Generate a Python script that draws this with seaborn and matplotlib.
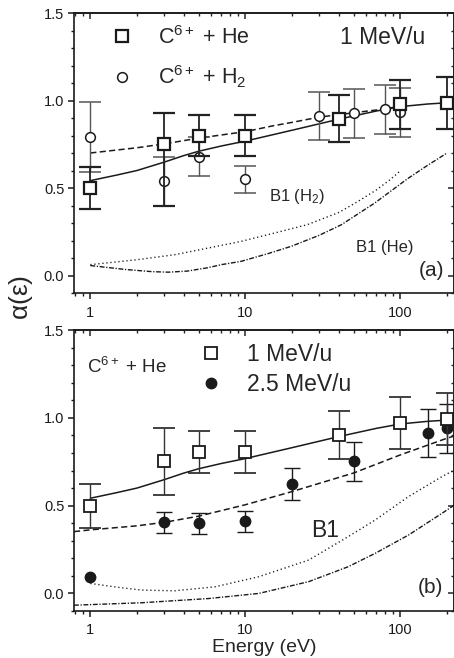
import numpy as np
import matplotlib
matplotlib.use("Agg")
import matplotlib.pyplot as plt
import matplotlib.ticker as mticker
from matplotlib.lines import Line2D
import seaborn as sns

# ---------------- data (panel a: 1 MeV/u) ----------------
he_E = [1, 3, 5, 10, 40, 100, 200]
he_a = [0.50, 0.75, 0.80, 0.80, 0.896, 0.978, 0.987]
he_a_lo = [0.12, 0.35, 0.115, 0.115, 0.135, 0.14, 0.15]
he_a_hi = [0.12, 0.18, 0.115, 0.115, 0.135, 0.14, 0.15]

h2_E = [1, 3, 5, 10, 30, 50, 80, 100]
h2_a = [0.79, 0.54, 0.68, 0.55, 0.912, 0.928, 0.949, 0.932]
h2_a_err = [0.20, 0.14, 0.11, 0.076, 0.135, 0.14, 0.14, 0.14]

# theory curves panel a
solid_E = [1, 1.5, 2, 3, 4, 5, 7, 10, 20, 40, 70, 100, 150, 200]
solid_v = [0.542, 0.575, 0.60, 0.648, 0.685, 0.71, 0.74, 0.768, 0.83, 0.893, 0.94, 0.965, 0.98, 0.987]

dash_a_E = [1, 2, 3, 5, 10, 15, 20, 30, 50, 80, 100]
dash_a_v = [0.70, 0.73, 0.752, 0.785, 0.822, 0.855, 0.875, 0.905, 0.93, 0.952, 0.968]

b1h2_E = [1, 2, 3.5, 6, 9.4, 15, 25, 40, 53, 70, 85, 100]
b1h2_v = [0.062, 0.09, 0.119, 0.16, 0.195, 0.24, 0.29, 0.36, 0.422, 0.489, 0.545, 0.598]

b1he_E = [1, 1.7, 2.5, 3.2, 4.2, 5.7, 7, 9.4, 14, 19.8, 30, 41.6, 68, 112, 150, 200]
b1he_v = [0.057, 0.034, 0.022, 0.019, 0.025, 0.044, 0.062, 0.081, 0.125, 0.167, 0.23, 0.29, 0.413, 0.555, 0.63, 0.70]

# ---------------- data (panel b: C6+ + He) ----------------
sq_E = [1, 3, 5, 10, 40, 100, 200]
sq_b = [0.50, 0.752, 0.804, 0.804, 0.90, 0.971, 0.994]
sq_b_err = [0.125, 0.19, 0.12, 0.12, 0.136, 0.146, 0.148]

fc_E = [1, 3, 5, 10, 20, 50, 150, 200]
fc_b = [0.095, 0.404, 0.40, 0.41, 0.623, 0.753, 0.913, 0.941]
fc_b_err = [np.nan, 0.06, 0.06, 0.06, 0.093, 0.112, 0.136, 0.14]

dash_b_E = [0.785, 1, 2, 3, 5, 10, 20, 50, 100, 200, 220]
dash_b_v = [0.352, 0.362, 0.385, 0.405, 0.44, 0.505, 0.58, 0.686, 0.789, 0.884, 0.895]

b1_E = [1, 1.5, 2.15, 3.5, 6.4, 12.2, 25.6, 46, 69, 113, 186, 220]
b1_v = [0.057, 0.035, 0.019, 0.015, 0.038, 0.095, 0.19, 0.323, 0.419, 0.552, 0.666, 0.70]

b1dd_E = [0.785, 2.15, 5.8, 12.2, 25.6, 46, 69, 113, 186, 220]
b1dd_v = [-0.067, -0.053, -0.029, 0.0, 0.067, 0.152, 0.229, 0.333, 0.457, 0.50]

xticks = [1, 10, 100]
xticklabels = ["1", "10", "100"]
yticks = [0.0, 0.5, 1.0, 1.5]

# ---------------- style ----------------
sns.set_theme(style="ticks")
plt.rcParams['font.family'] = ['Liberation Sans', 'DejaVu Sans']
plt.rcParams['mathtext.fontset'] = 'custom'
plt.rcParams['mathtext.rm'] = 'Liberation Sans'
plt.rcParams['mathtext.it'] = 'Liberation Sans'
plt.rcParams['axes.linewidth'] = 1.2

fig = plt.figure(figsize=(4.54, 6.58), dpi=100)
W, H = 454.0, 658.0
ax_a = fig.add_axes([74 / W, 1 - 293 / H, (453.5 - 74) / W, (293 - 13) / H])
ax_b = fig.add_axes([74 / W, 1 - 611 / H, (453.5 - 74) / W, (611 - 330) / H])

DASHED = (0, (4.0, 2.2))
DOTTED = (0, (0.9, 2.0))
DASHDOT = (0, (3.5, 1.2, 0.9, 1.2))


def setup(ax):
    ax.set_xscale('log')
    ax.set_xlim(0.785, 220)
    ax.set_ylim(-0.1, 1.5)
    ax.set_xticks(xticks)
    ax.set_xticklabels(xticklabels)
    ax.xaxis.set_minor_locator(mticker.LogLocator(base=10, subs=np.arange(2, 10)))
    ax.xaxis.set_minor_formatter(mticker.NullFormatter())
    ax.set_yticks(yticks)
    ax.yaxis.set_major_formatter(mticker.FormatStrFormatter('%.1f'))
    ax.yaxis.set_minor_locator(mticker.MultipleLocator(0.1))
    ax.tick_params(which='major', direction='out', length=4, width=1.1, labelsize=10.5,
                   colors='k', pad=3)
    ax.tick_params(axis='x', which='major', pad=5)
    ax.tick_params(which='minor', direction='out', length=2.5, width=1.0, colors='k')
    for s in ax.spines.values():
        s.set_color('k')
        s.set_linewidth(1.2)
    # top and right inward ticks
    sx = ax.secondary_xaxis('top')
    sx.set_xticks(xticks)
    sx.xaxis.set_minor_locator(mticker.LogLocator(base=10, subs=np.arange(2, 10)))
    sx.tick_params(which='major', direction='in', length=4, width=1.1, labeltop=False)
    sx.tick_params(which='minor', direction='in', length=2.5, width=1.0, labeltop=False)
    sx.xaxis.set_minor_formatter(mticker.NullFormatter())
    sx.set_xticklabels([])
    sy = ax.secondary_yaxis('right')
    sy.set_yticks(yticks)
    sy.yaxis.set_minor_locator(mticker.MultipleLocator(0.1))
    sy.tick_params(which='major', direction='in', length=4, width=1.1, labelright=False)
    sy.tick_params(which='minor', direction='in', length=2.5, width=1.0, labelright=False)
    sy.set_yticklabels([])


for ax in (ax_a, ax_b):
    setup(ax)

# ---------------- panel a ----------------
sns.lineplot(x=solid_E, y=solid_v, ax=ax_a, color='k', lw=1.1, linestyle='-', zorder=2)
sns.lineplot(x=dash_a_E, y=dash_a_v, ax=ax_a, color='k', lw=1.1, linestyle=DASHED, zorder=2)
sns.lineplot(x=b1h2_E, y=b1h2_v, ax=ax_a, color='k', lw=1.0, linestyle=DOTTED, zorder=2)
sns.lineplot(x=b1he_E, y=b1he_v, ax=ax_a, color='k', lw=1.0, linestyle=DASHDOT, zorder=2)

ax_a.errorbar(h2_E, h2_a, yerr=h2_a_err, fmt='o', ms=7, mfc='white', mec='k', mew=1.1,
              ecolor='#555555', elinewidth=1.0, capsize=8, capthick=1.0, zorder=3)
ax_a.errorbar(he_E, he_a, yerr=[he_a_lo, he_a_hi], fmt='s', ms=8.5, mfc='white', mec='k',
              mew=1.6, ecolor='#222222', elinewidth=1.3, capsize=8, capthick=1.3, zorder=4)

h_sq = Line2D([], [], marker='s', ms=8.5, mfc='white', mec='k', mew=1.6, ls='none')
h_ci = Line2D([], [], marker='o', ms=7, mfc='white', mec='k', mew=1.1, ls='none')
ax_a.legend([h_sq, h_ci], [r'$\mathrm{C}^{6+}$ + He', r'$\mathrm{C}^{6+}$ + H$_2$'], loc='upper left',
            bbox_to_anchor=(0.099, 0.955), frameon=False, fontsize=15.5, borderaxespad=0,
            borderpad=0, handlelength=1.0, handletextpad=1.15, labelspacing=0.7)
ax_a.text(0.814, 0.914, '1 MeV/u', transform=ax_a.transAxes, ha='center', va='center', fontsize=16.5)
ax_a.text(0.588, 0.343, r'B1 (H$_2$)', transform=ax_a.transAxes, ha='center', va='center', fontsize=12)
ax_a.text(0.82, 0.164, 'B1 (He)', transform=ax_a.transAxes, ha='center', va='center', fontsize=12)
ax_a.text(0.943, 0.082, '(a)', transform=ax_a.transAxes, ha='center', va='center', fontsize=15)

# ---------------- panel b ----------------
sns.lineplot(x=solid_E, y=solid_v, ax=ax_b, color='k', lw=1.1, linestyle='-', zorder=2)
sns.lineplot(x=dash_b_E, y=dash_b_v, ax=ax_b, color='k', lw=1.1, linestyle=DASHED, zorder=2)
sns.lineplot(x=b1_E, y=b1_v, ax=ax_b, color='k', lw=1.0, linestyle=DOTTED, zorder=2)
sns.lineplot(x=b1dd_E, y=b1dd_v, ax=ax_b, color='k', lw=1.0, linestyle=DASHDOT, zorder=2)

ax_b.errorbar(sq_E, sq_b, yerr=sq_b_err, fmt='s', ms=8.5, mfc='white', mec='k', mew=1.3,
              ecolor='#333333', elinewidth=1.0, capsize=8, capthick=1.0, zorder=4)
ax_b.errorbar(fc_E, fc_b, yerr=fc_b_err, fmt='o', ms=7.5, mfc='k', mec='k', mew=1.0,
              ecolor='k', elinewidth=1.0, capsize=6, capthick=1.0, zorder=3)

h_sq2 = Line2D([], [], marker='s', ms=8.5, mfc='white', mec='k', mew=1.3, ls='none')
h_fc = Line2D([], [], marker='o', ms=7.5, mfc='k', mec='k', ls='none')
ax_b.legend([h_sq2, h_fc], ['1 MeV/u', '2.5 MeV/u'], loc='upper left',
            bbox_to_anchor=(0.331, 0.952), frameon=False, fontsize=16.5, borderaxespad=0,
            borderpad=0, handlelength=1.0, handletextpad=1.05, labelspacing=0.3)
ax_b.text(0.141, 0.868, r'$\mathrm{C}^{6+}$ + He', transform=ax_b.transAxes, ha='center', va='center', fontsize=13.5)
ax_b.text(0.663, 0.285, 'B1', transform=ax_b.transAxes, ha='center', va='center', fontsize=16.5)
ax_b.text(0.939, 0.085, '(b)', transform=ax_b.transAxes, ha='center', va='center', fontsize=15)

ax_b.set_xlabel('Energy (eV)', fontsize=14, labelpad=1)
ax_a.set_xlabel('')
ax_a.set_ylabel('')
ax_b.set_ylabel('')
fig.text(21 / W, 1 - 297 / H, r'$\alpha(\varepsilon)$', rotation=90, ha='center', va='center',
         fontsize=19)

fig.savefig('out.png', dpi=100)
